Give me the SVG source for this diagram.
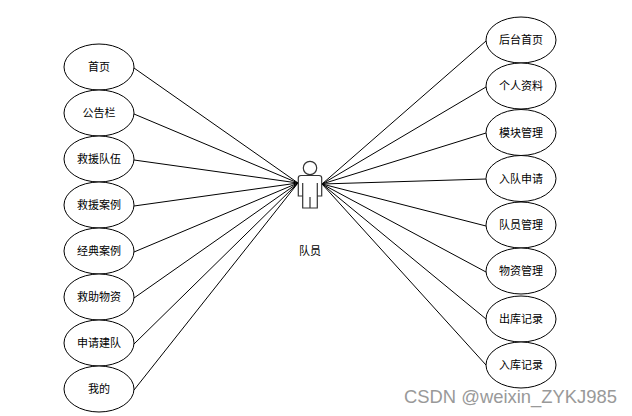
<svg xmlns="http://www.w3.org/2000/svg" width="632" height="416" viewBox="0 0 632 416">
<style>
.n{fill:#fff;stroke:#000;stroke-width:1}
.c{stroke:#000;stroke-width:1;fill:none}
.a{fill:#fff;stroke:#333;stroke-width:1.2}
text{font-family:"Noto Sans CJK SC","Liberation Sans",sans-serif;font-size:11px;fill:#000;text-anchor:middle}
.w{font-family:"Liberation Sans",Arial,sans-serif;font-size:18.400px;fill:#999;text-anchor:start}
</style>
<rect width="632" height="416" fill="#fff"/>
<g id="connectors" class="c">
<path d="M134 68L298 183M134 114L298 183M134 160L298 183M134 206L298 183M134 252L298 183M134 298L298 183M134 344L298 183M134 390L298 183"/>
<path d="M486 41L322 184M486 87L322 184M486 133L322 184M486 179L322 184M486 226L322 184M486 272L322 184M486 319L322 184M486 365L322 184"/>
</g>
<g id="actor" class="a">
<circle cx="310" cy="168" r="6.700"/>
<path d="M301 175.500H319Q321.700 175.500 321.700 178V196H317.300V208H302.700V196H298.300V178Q298.300 175.500 301 175.500ZM302.700 183V196M317.300 183V196M310 208V197"/>
</g>
<text x="310" y="255">队员</text>
<g id="l1"><ellipse class="n" cx="99" cy="67" rx="35" ry="23"/><text x="99" y="71">首页</text></g>
<g id="l2"><ellipse class="n" cx="99" cy="113" rx="35" ry="23"/><text x="99" y="117">公告栏</text></g>
<g id="l3"><ellipse class="n" cx="99" cy="159" rx="35" ry="23"/><text x="99" y="163">救援队伍</text></g>
<g id="l4"><ellipse class="n" cx="99" cy="205" rx="35" ry="23"/><text x="99" y="209">救援案例</text></g>
<g id="l5"><ellipse class="n" cx="99" cy="251" rx="35" ry="23"/><text x="99" y="255">经典案例</text></g>
<g id="l6"><ellipse class="n" cx="99" cy="297" rx="35" ry="23"/><text x="99" y="301">救助物资</text></g>
<g id="l7"><ellipse class="n" cx="99" cy="343" rx="35" ry="23"/><text x="99" y="347">申请建队</text></g>
<g id="l8"><ellipse class="n" cx="99" cy="389" rx="35" ry="23"/><text x="99" y="393">我的</text></g>
<g id="r1"><ellipse class="n" cx="521" cy="40" rx="35" ry="23"/><text x="521" y="44">后台首页</text></g>
<g id="r2"><ellipse class="n" cx="521" cy="86" rx="35" ry="23"/><text x="521" y="90">个人资料</text></g>
<g id="r3"><ellipse class="n" cx="521" cy="132.500" rx="35" ry="23"/><text x="521" y="136.500">模块管理</text></g>
<g id="r4"><ellipse class="n" cx="521" cy="178.500" rx="35" ry="23"/><text x="521" y="182.500">入队申请</text></g>
<g id="r5"><ellipse class="n" cx="521" cy="225" rx="35" ry="23"/><text x="521" y="229">队员管理</text></g>
<g id="r6"><ellipse class="n" cx="521" cy="271" rx="35" ry="23"/><text x="521" y="275">物资管理</text></g>
<g id="r7"><ellipse class="n" cx="521" cy="319" rx="35" ry="23"/><text x="521" y="323">出库记录</text></g>
<g id="r8"><ellipse class="n" cx="521" cy="365" rx="35" ry="23"/><text x="521" y="369">入库记录</text></g>
<text class="w" x="404" y="403">CSDN @weixin_ZYKJ985</text>
</svg>
